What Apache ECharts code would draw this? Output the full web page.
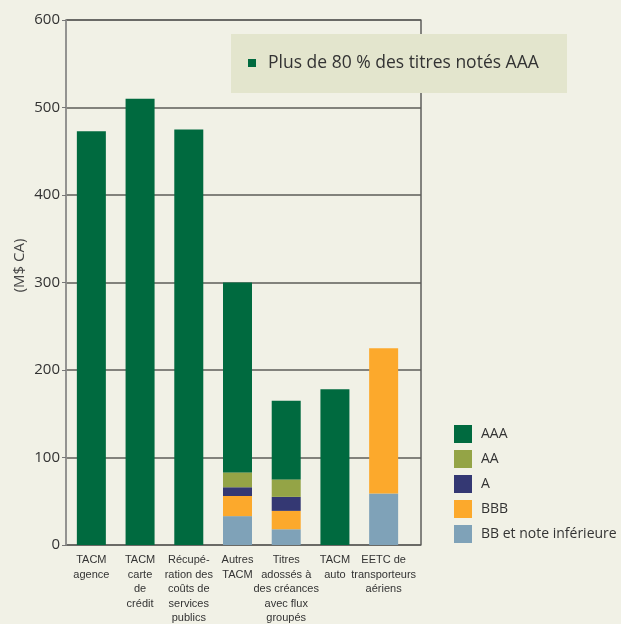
<!DOCTYPE html>
<html>
<head>
<meta charset="utf-8">
<script src="https://cdn.jsdelivr.net/npm/echarts@6/dist/echarts.min.js"></script>
<style>
html,body{margin:0;padding:0;background:#f1f1e6;}
#c{width:621px;height:624px;}
</style>
</head>
<body>
<div id="c"></div>
<script>
const categories = ["TACM\nagence", "TACM\ncarte\nde\ncrédit", "Récupé-\nration des\ncoûts de\nservices\npublics", "Autres\nTACM", "Titres\nadossés à\ndes créances\navec flux\ngroupés", "TACM\nauto", "EETC de\ntransporteurs\naériens"];
const seriesNames = ["AAA", "AA", "A", "BBB", "BB et note inférieure"];
const bbValues  = [0, 0, 0, 33, 18, 0, 59];
const bbbValues = [0, 0, 0, 23, 21, 0, 166];
const aValues   = [0, 0, 0, 10, 16, 0, 0];
const aaValues  = [0, 0, 0, 17, 20, 0, 0];
const aaaValues = [473, 510, 475, 217, 90, 178, 0];
const yTicks = [0, 100, 200, 300, 400, 500, 600];
const yTitle = "(M$ CA)";
const annotationText = "Plus de 80 % des titres notés AAA";

const FONT = "Liberation Sans";
const FONT2 = "Open Sans";
const colors = {"AAA":"#006a3f","AA":"#94a446","A":"#343873","BBB":"#fca92c","BB et note inférieure":"#7fa2b8"};

function mk(name, data){
  return {name:name, type:'bar', stack:'total', xAxisIndex:1, yAxisIndex:1,
    barWidth:29, data:data, itemStyle:{color:colors[name]}};
}

const chart = echarts.init(document.getElementById('c'), null, {renderer:'canvas'});
chart.setOption({
  backgroundColor:'#f1f1e6',
  animation:false,
  textStyle:{fontFamily:FONT},
  grid:[
    {left:66, top:20, width:355, height:525, show:true, borderColor:'#3a3a3a', borderWidth:1.2, backgroundColor:'transparent', containLabel:false, outerBoundsMode:'none'},
    {left:67, top:20, width:341, height:525, containLabel:false, outerBoundsMode:'none'}
  ],
  xAxis:[
    {type:'value', gridIndex:0, show:false, min:0, max:1},
    {type:'category', gridIndex:1, data:categories,
      axisLine:{show:false}, axisTick:{show:false},
      axisLabel:{interval:0, fontSize:11, lineHeight:14.5, color:'#333', margin:8, fontFamily:FONT}}
  ],
  yAxis:[
    {type:'value', gridIndex:0, min:yTicks[0], max:yTicks[yTicks.length-1], interval:100,
      axisLabel:{fontSize:15, color:'#333', margin:6, fontFamily:FONT2},
      axisLine:{show:true, lineStyle:{color:'#999', width:1.5}},
      axisTick:{show:true, length:4, lineStyle:{color:'#777'}},
      splitLine:{show:true, lineStyle:{color:'#5c5c58', width:1.5}}},
    {type:'value', gridIndex:1, min:0, max:600, show:false}
  ],
  legend:{
    orient:'vertical', left:449, top:420, itemWidth:18, itemHeight:18, itemGap:7,
    icon:'rect', data:seriesNames,
    textStyle:{fontSize:14, color:'#333', padding:[0,0,0,4], fontFamily:FONT2}
  },
  series:[
    mk("BB et note inférieure", bbValues),
    mk("BBB", bbbValues),
    mk("A", aValues),
    mk("AA", aaValues),
    mk("AAA", aaaValues)
  ],
  graphic:[
    {type:'text', x:20, y:265.5, rotation:Math.PI/2, style:{text:yTitle, fontSize:15, fill:'#444', fontFamily:FONT2, align:'center', verticalAlign:'middle'}},
    {type:'group', z:100, children:[
      {type:'rect', shape:{x:231, y:34, width:336, height:59}, style:{fill:'#e3e5cd'}},
      {type:'rect', shape:{x:248, y:59, width:8, height:8}, style:{fill:'#006a3f'}},
      {type:'text', x:268, y:63.5, style:{text:annotationText, fontSize:17.5, fill:'#333', fontFamily:FONT2, verticalAlign:'middle'}}
    ]}
  ]
});
</script>
</body>
</html>
